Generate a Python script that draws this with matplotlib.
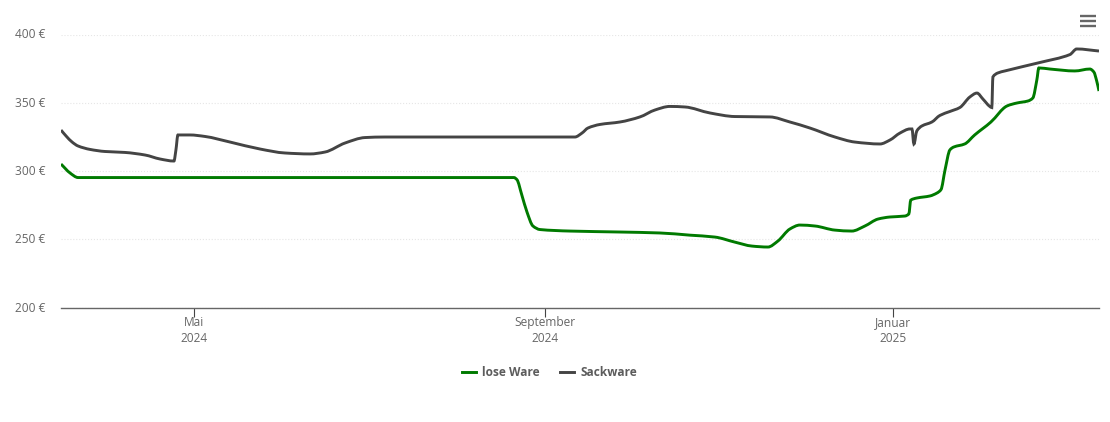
import numpy as np
import pandas as pd
import matplotlib
matplotlib.use("Agg")
import matplotlib.pyplot as plt
from matplotlib.lines import Line2D
from matplotlib.patches import PathPatch
from matplotlib.path import Path
from matplotlib.transforms import ScaledTranslation

plt.rcParams['font.family'] = ['Open Sans', 'DejaVu Sans']

start = pd.Timestamp('2024-03-15 07:00')

# days since start, euro
lose_days = [0, 3.2, 6, 158.8, 159.9, 161.6, 163.4, 165.5, 168, 178.5, 196, 210, 220.5, 229.3,
             236.3, 242.3, 247.9, 251.4, 255.6, 259.1, 264.4, 271.4, 277.3, 281.9, 286.5, 290.7,
             295.9, 297.3, 298, 300.1, 304.7, 307.2, 308.6, 310, 311.7, 313.1, 316.9, 320.4,
             326.1, 331.7, 335.2, 339.1, 340.8, 342.2, 342.9, 346.8, 355.5, 360.8, 362.2, 363.2, 364]
lose_values = [305.1, 298.5, 295.2, 295.2, 293.6, 282.4, 270, 259.7, 257.1, 256, 255.3, 254.6, 253, 251.6,
               247.9, 245, 244.3, 248.7, 257.5, 260.4, 259.7, 256.7, 256, 259.7, 264.8, 266.3,
               267, 268.5, 278.7, 280.2, 281.7, 283.9, 286.4, 300.7, 315.4, 317.6, 319.8, 326.4,
               335.9, 347.6, 349.8, 351.3, 353.5, 366.7, 375.5, 374.7, 373.3, 374.7, 372.5, 365.9, 358.6]

sack_days = [0, 1.8, 3.9, 6, 10.2, 15.4, 22.4, 29.5, 34.7, 39.6, 40.3, 41, 45.2, 50.5, 59.3, 69.8,
             78.5, 87.3, 92.6, 99.6, 106.6, 113.6, 180.2, 182.7, 184.8, 189, 196, 203, 208.3, 213.5,
             218.8, 227.6, 236.3, 248.6, 255.6, 262.6, 271.4, 278.4, 287.2, 290.7, 294.2, 297.7,
             298.4, 299.1, 300.1, 301.9, 305.4, 308.2, 311.7, 315.2, 318.7, 321.2, 323.3, 325.7,
             326.4, 326.8, 328.5, 331, 343.3, 353.8, 356.2, 364]
sack_values = [330, 325.6, 321.2, 318.3, 315.8, 314.3, 313.6, 311.7, 308.8, 307.3, 315.4, 326.4, 326.4, 325.3, 321.2, 316.1,
               313.2, 312.5, 313.9, 320.5, 324.5, 324.9, 324.9, 327.8, 331.5, 334.1, 335.9, 339.6, 344.7, 347.3,
               346.9, 342.5, 339.9, 339.6, 335.9, 331.5, 324.9, 321.2, 319.8, 322.7, 327.8, 330.8,
               330.8, 319.8, 329.3, 333, 335.9, 340.7, 343.6, 346.5, 354.2, 357.1, 352.7, 347.3,
               346.5, 368.9, 371.8, 373.3, 379.5, 385.3, 389.4, 387.9]

y_ticks = [200, 250, 300, 350, 400]
x_tick_dates = ['2024-05-01', '2024-09-01', '2025-01-01']
x_tick_labels = ['Mai\n2024', 'September\n2024', 'Januar\n2025']


def smooth_path(xs, ys):
    "Monotone cubic bezier through the points, no overshoot"
    x = np.array(xs, dtype=float)
    y = np.array(ys, dtype=float)
    h = np.diff(x)
    s = np.diff(y) / h
    m = np.zeros(len(x))
    m[0], m[-1] = s[0], s[-1]
    for i in range(1, len(x) - 1):
        if s[i - 1] * s[i] > 0:
            m[i] = 2 * s[i - 1] * s[i] / (s[i - 1] + s[i])
    verts = [(x[0], y[0])]
    codes = [Path.MOVETO]
    for i in range(len(h)):
        verts += [(x[i] + h[i] / 3, y[i] + m[i] * h[i] / 3),
                  (x[i + 1] - h[i] / 3, y[i + 1] - m[i + 1] * h[i] / 3),
                  (x[i + 1], y[i + 1])]
        codes += [Path.CURVE4] * 3
    return Path(verts, codes)


W, H = 1110, 422
fig = plt.figure(figsize=(W / 100, H / 100), dpi=100)
ax = fig.add_axes([61 / W, 1 - 307.5 / H, 1038 / W, 273 / H])

ax.add_patch(PathPatch(smooth_path(lose_days, lose_values), fill=False, edgecolor='#007a00', lw=2.1))
ax.add_patch(PathPatch(smooth_path(sack_days, sack_values), fill=False, edgecolor='#444444', lw=2.1))

ax.set_xlim(0, 364)
ax.set_ylim(200, 400)
ax.set_yticks(y_ticks)
ax.set_yticklabels([f'{v} €' for v in y_ticks])
ax.set_xticks([(pd.Timestamp(d) - start) / pd.Timedelta(days=1) for d in x_tick_dates])
ax.set_xticklabels(x_tick_labels, linespacing=1.32)

ax.grid(axis='y', color='#e6e6e6', lw=0.8, ls=':')
ax.set_axisbelow(True)
for s in ['top', 'right', 'left']:
    ax.spines[s].set_visible(False)
ax.spines['bottom'].set_color('#666666')
ax.spines['bottom'].set_linewidth(1.0)
ax.tick_params(axis='y', length=0, pad=11, labelsize=8.6, labelcolor='#666666')
ax.tick_params(axis='x', length=6.5, width=0.8, color='#444444', pad=-0.6, labelsize=8.6, labelcolor='#666666')
for lab in ax.get_yticklabels():
    lab.set_transform(lab.get_transform() + ScaledTranslation(0, 1 / 100, fig.dpi_scale_trans))

handles = [Line2D([], [], color='#007a00', lw=2.1, label='lose Ware'),
           Line2D([], [], color='#444444', lw=2.1, label='Sackware')]
leg = fig.legend(handles=handles, loc='center', bbox_to_anchor=(549.5 / W, 1 - 372.5 / H), ncol=2, frameon=False,
                 prop={'size': 8.6, 'weight': 'bold'}, handlelength=1.2, handletextpad=0.5, columnspacing=1.7)
for t in leg.get_texts():
    t.set_color('#5c5c5c')

# menu icon top right
for py in [16, 21, 26]:
    fig.add_artist(Line2D([1080 / W, 1096 / W], [1 - py / H, 1 - py / H], color='#666666', lw=1.7,
                          solid_capstyle='butt'))

fig.savefig('out.png', dpi=100)
